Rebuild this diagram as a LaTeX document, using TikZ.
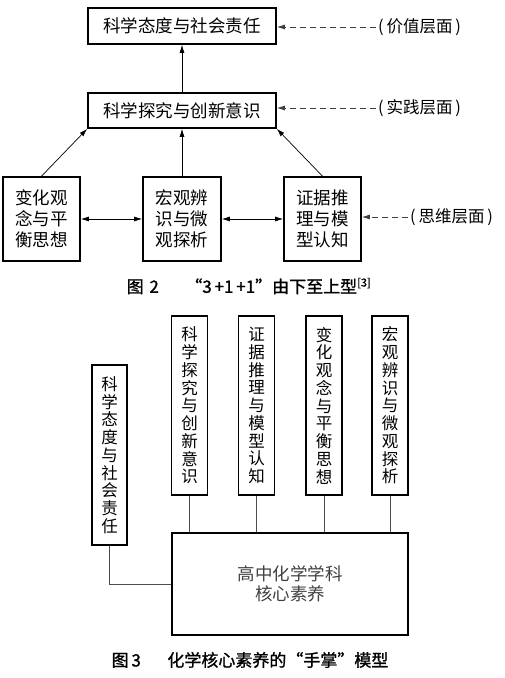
\documentclass[tikz,border=0pt]{standalone}
\usepackage{fontspec}
\newfontfamily\cjk{Noto Sans CJK SC}
\newfontfamily\cjkb[FakeBold=1.2]{Noto Sans CJK SC}
\usetikzlibrary{arrows.meta}
\begin{document}
\begin{tikzpicture}[x=1pt,y=-1pt,
  hbox/.style={draw, line width=1.6pt, inner sep=0pt, align=center,
    font=\cjk\fontsize{17.5}{21}\selectfont},
  vbox/.style={draw, line width=1.4pt, inner sep=0pt, align=center,
    minimum width=36pt, minimum height=179pt,
    font=\cjk\fontsize{16.5}{17.75}\selectfont},
  lbl/.style={inner sep=2pt, font=\cjk\fontsize{16.5}{19}\selectfont},
  figcap/.style={inner sep=0pt, font=\cjkb\fontsize{17}{19}\selectfont},
  arr/.style={line width=0.7pt, -{Latex[length=8pt,width=5pt]}},
  darr/.style={line width=0.7pt, {Latex[length=8pt,width=5pt]}-{Latex[length=8pt,width=5pt]}},
  dasharr/.style={line width=0.8pt, black!75, dash pattern=on 6pt off 4pt, -{Latex[length=8pt,width=5pt]}},
  conn/.style={line width=0.8pt, black!70}
]
\useasboundingbox (0,0) rectangle (505,678);

% ---------- Figure 2 ----------
\node[hbox, minimum width=188pt, minimum height=36pt] (top) at (182,26) {科学态度与社会责任};
\node[hbox, minimum width=188pt, minimum height=35pt] (mid) at (182,110.5) {科学探究与创新意识};
\node[hbox, minimum width=77pt, minimum height=84pt] (b1) at (41.5,219) {变化观\\念与平\\衡思想};
\node[hbox, minimum width=78pt, minimum height=84pt] (b2) at (182,219) {宏观辨\\识与微\\观探析};
\node[hbox, minimum width=77pt, minimum height=84pt] (b3) at (322.5,219) {证据推\\理与模\\型认知};

\draw[arr] (mid.north) -- (top.south);
\draw[arr] (b1.north) -- (mid.south west);
\draw[arr] (b2.north) -- (mid.south);
\draw[arr] (b3.north) -- (mid.south east);
\draw[darr] (b1.east) -- (b2.west);
\draw[darr] (b2.east) -- (b3.west);

\node[lbl, anchor=west] (l1) at (376,27) {(\,价值层面\,)};
\node[lbl, anchor=west] (l2) at (376,108) {(\,实践层面\,)};
\node[lbl, anchor=west] (l3) at (408,217) {(\,思维层面\,)};
\draw[dasharr] (l1.west) -- (top.east |- l1.west);
\draw[dasharr] (l2.west) -- (mid.east |- l2.west);
\draw[dasharr] (l3.west) -- (b3.east |- l3.west);

\node[figcap] (cap2) at (249,286) {图\,\,2\quad\,\, “3\,+1\,+1”由下至上型\textsuperscript{\fontsize{11}{12}\selectfont[3]}};

% ---------- Figure 3 ----------
\node[vbox, minimum width=35pt, minimum height=180pt] (L) at (109.5,455) {科\\学\\态\\度\\与\\社\\会\\责\\任};
\node[vbox] (A) at (189.5,405.5) {科\\学\\探\\究\\与\\创\\新\\意\\识};
\node[vbox] (B) at (256.5,405.5) {证\\据\\推\\理\\与\\模\\型\\认\\知};
\node[vbox] (C) at (324,405.5) {变\\化\\观\\念\\与\\平\\衡\\思\\想};
\node[vbox] (D) at (390,405.5) {宏\\观\\辨\\识\\与\\微\\观\\探\\析};
\node[draw, line width=1.6pt, minimum width=236pt, minimum height=102pt, inner sep=0pt,
  align=center, text=black!75, font=\cjk\fontsize{17.5}{20}\selectfont] (core) at (290,584) {高中化学学科\\核心素养};

\draw[conn] (A.south) -- (A.south |- core.north);
\draw[conn] (B.south) -- (B.south |- core.north);
\draw[conn] (C.south) -- (C.south |- core.north);
\draw[conn] (D.south) -- (D.south |- core.north);
\draw[conn] (L.south) |- (core.west);

\node[figcap] (cap3) at (250,660) {图\,3\quad\,\, 化学核心素养的“手掌”模型};
\end{tikzpicture}
\end{document}
